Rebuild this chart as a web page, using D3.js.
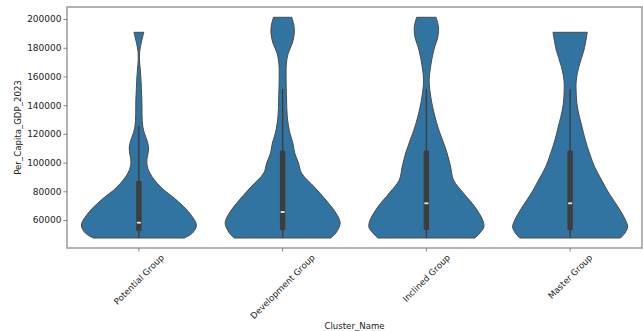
<!DOCTYPE html>
<html>
<head>
<meta charset="utf-8">
<script src="https://cdn.jsdelivr.net/npm/d3@7/dist/d3.min.js"></script>
<style>
  html, body { margin: 0; padding: 0; background: #fff; }
  svg { display: block; }
</style>
</head>
<body>
<svg id="chart" width="643" height="331"></svg>
<script>
// ---------------- DATA ----------------
const categories = ["Potential Group", "Development Group", "Inclined Group", "Master Group"];

// Violin profile: GDP values (bottom→top) and relative density (1 = widest violin)
const potentialValues  = [47460, 50900, 56500, 64900, 73900, 83000, 92700, 99700, 110900, 124800, 143600, 159600, 176300, 190750];
const potentialDensity = [0.793, 0.931, 1.000, 0.879, 0.655, 0.379, 0.190, 0.138, 0.167, 0.069, 0.052, 0.034, 0.012, 0.086];

const developmentValues  = [47460, 50940, 57910, 64880, 73930, 82990, 92740, 99710, 106670, 113640, 120600, 131750, 143590, 159610, 169370, 176330, 183300, 190260, 195840, 201200];
const developmentDensity = [0.840, 0.926, 1.000, 0.926, 0.753, 0.552, 0.328, 0.276, 0.210, 0.178, 0.126, 0.081, 0.069, 0.060, 0.066, 0.098, 0.169, 0.203, 0.195, 0.159];

const inclinedValues  = [47460, 50940, 55120, 60000, 69060, 78810, 87860, 96920, 106670, 115730, 124780, 138720, 150560, 157520, 166580, 178420, 187480, 194440, 201200];
const inclinedDensity = [0.845, 0.931, 1.000, 0.978, 0.845, 0.643, 0.471, 0.422, 0.359, 0.281, 0.200, 0.109, 0.060, 0.048, 0.072, 0.129, 0.198, 0.210, 0.169];

const masterValues  = [47460, 50940, 55120, 60000, 69060, 78810, 87860, 96920, 106670, 115730, 124780, 138720, 150560, 157520, 166580, 178420, 190750];
const masterDensity = [0.876, 0.953, 1.000, 0.962, 0.833, 0.672, 0.547, 0.426, 0.336, 0.264, 0.207, 0.126, 0.103, 0.107, 0.150, 0.241, 0.298];

// Box statistics per group: [whiskerLow, Q1, median, Q3, whiskerHigh]
const boxMin    = [47460, 47460, 47460, 47460];
const boxQ1     = [52550, 53030, 53030, 53030];
const boxMedian = [58120, 65570, 71630, 71630];
const boxQ3     = [87170, 108280, 108280, 108280];
const boxMax    = [125690, 151260, 151260, 151260];

const yTicks = [60000, 80000, 100000, 120000, 140000, 160000, 180000, 200000];
const yDomain = [40495, 208380];

const yLabel = "Per_Capita_GDP_2023";
const xLabel = "Cluster_Name";

// ---------------- LAYOUT ----------------
const margin = { left: 67, top: 7, right: 1, bottom: 83 };
const W = 643, H = 331;
const svg = d3.select("#chart");

const x = d3.scaleBand().domain(categories).range([margin.left, W - margin.right]).padding(0);
const y = d3.scaleLinear().domain(yDomain).range([H - margin.bottom, margin.top]);
const w = d3.scaleLinear().domain([0, 1]).range([0, x.bandwidth() * 0.4]);

const profiles = [
  potentialValues.map((v, i) => ({ value: v, density: potentialDensity[i] })),
  developmentValues.map((v, i) => ({ value: v, density: developmentDensity[i] })),
  inclinedValues.map((v, i) => ({ value: v, density: inclinedDensity[i] })),
  masterValues.map((v, i) => ({ value: v, density: masterDensity[i] }))
];

const fill = "#3274a1";
const edge = "#4a4a4a";
const textColor = "#222";
const font = "'DejaVu Sans', sans-serif";

// Violins
categories.forEach((c, i) => {
  const cx = x(c) + x.bandwidth() / 2;
  const area = d3.area()
    .y(d => y(d.value))
    .x0(d => cx - w(d.density))
    .x1(d => cx + w(d.density))
    .curve(d3.curveCatmullRom.alpha(0.5));
  svg.append("path")
    .datum(profiles[i])
    .attr("d", area)
    .attr("fill", fill)
    .attr("stroke", edge)
    .attr("stroke-width", 1);

  // whisker
  svg.append("line")
    .attr("x1", cx).attr("x2", cx)
    .attr("y1", y(boxMin[i])).attr("y2", y(boxMax[i]))
    .attr("stroke", "#3d3d3d").attr("stroke-width", 1.4);
  // box
  svg.append("rect")
    .attr("x", cx - 2.7).attr("width", 5.4)
    .attr("y", y(boxQ3[i])).attr("height", y(boxQ1[i]) - y(boxQ3[i]))
    .attr("fill", "#3d3d3d");
  // median
  svg.append("rect")
    .attr("x", cx - 2).attr("width", 4)
    .attr("y", y(boxMedian[i]) - 0.9).attr("height", 1.8)
    .attr("fill", "#e6e6e6");
});

// Frame
svg.append("rect")
  .attr("x", margin.left).attr("y", margin.top)
  .attr("width", W - margin.right - margin.left)
  .attr("height", H - margin.bottom - margin.top)
  .attr("fill", "none").attr("stroke", "#9a9a9a").attr("stroke-width", 1.5);

// Y axis
const yAxis = d3.axisLeft(y).tickValues(yTicks).tickSize(3.5).tickPadding(2).tickFormat(d3.format("d"));
const gy = svg.append("g").attr("transform", `translate(${margin.left},0)`).call(yAxis);
gy.select(".domain").remove();
gy.selectAll(".tick line").attr("stroke", "#777").attr("stroke-width", 0.9);
gy.selectAll(".tick text").attr("fill", textColor).attr("font-family", font).attr("font-size", 9);

// X axis
const xAxis = d3.axisBottom(x).tickSize(3.5).tickFormat("");
const gx = svg.append("g").attr("transform", `translate(0,${H - margin.bottom})`).call(xAxis);
gx.select(".domain").remove();
gx.selectAll(".tick line").attr("stroke", "#777").attr("stroke-width", 0.9);

categories.forEach(c => {
  const cx = x(c) + x.bandwidth() / 2;
  const t = svg.append("text")
    .text(c)
    .attr("font-family", font).attr("font-size", 8.6)
    .attr("fill", textColor)
    .attr("text-anchor", "middle")
    .attr("dominant-baseline", "central");
  const L = t.node().getComputedTextLength();
  const half = (L + 8.6) * Math.SQRT1_2 / 2;
  const top = H - margin.bottom + 5;
  t.attr("transform", `translate(${cx},${top + half}) rotate(-45)`);
});

// Axis labels
svg.append("text")
  .text(yLabel)
  .attr("font-family", font).attr("font-size", 8.6).attr("fill", textColor)
  .attr("text-anchor", "middle")
  .attr("transform", `translate(21,${(margin.top + H - margin.bottom) / 2}) rotate(-90)`);

svg.append("text")
  .text(xLabel)
  .attr("font-family", font).attr("font-size", 8.6).attr("fill", textColor)
  .attr("text-anchor", "middle")
  .attr("x", (margin.left + W - margin.right) / 2)
  .attr("y", 329);
</script>
</body>
</html>
